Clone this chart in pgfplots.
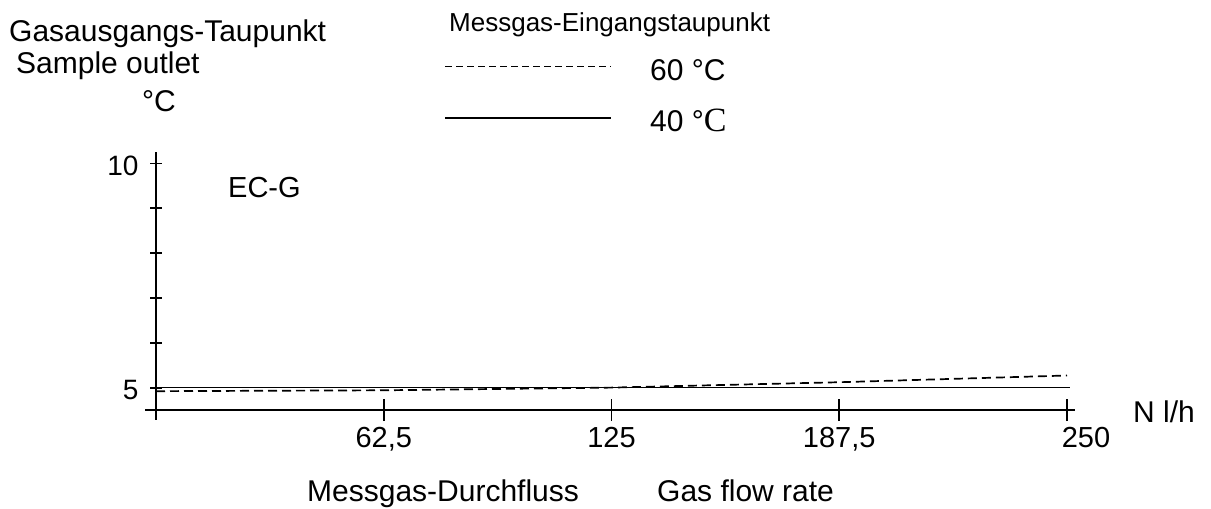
\documentclass[border=0pt]{standalone}
\usepackage{pgfplots}
\pgfplotsset{compat=1.18}
\usepackage{fontspec}
\setmainfont{Liberation Sans}
\newfontfamily\serifC{Liberation Serif}
\newcommand\fs[1]{\fontsize{#1pt}{#1pt}\selectfont}

\pgfplotstableread{
x y
0 5.0
250.8 5.0
}\solidforty
\pgfplotstableread{
x y
0 4.92
62.5 4.94
125 5.0
187.5 5.12
250 5.27
}\dashedsixty

\begin{document}
\begin{tikzpicture}
\useasboundingbox (0pt,0pt) rectangle (1211pt,-509pt);
% axis carrying the x ticks
\begin{axis}[
  at={(156pt,-410pt)}, anchor=south west,
  scale only axis, width=911pt, height=255.4pt,
  xmin=0, xmax=250, ymin=4.5, ymax=10.2,
  axis line style={draw=none},
  xtick={62.5,125,187.5,250},
  xticklabels={{62,5},125,{187,5},\hspace*{38pt}250},
  xtick pos=bottom, ytick=\empty,
  major tick length=22pt, tick align=center,
  tick style={line width=1.8pt, black},
  xticklabel style={font=\fs{29}, anchor=north, yshift=-3pt},
  /pgf/number format/assume math mode=true,
  clip=false,
]
\end{axis}
% axis carrying the y ticks and the data
\begin{axis}[
  at={(156pt,-410pt)}, anchor=south west,
  scale only axis, width=911pt, height=255.4pt,
  xmin=0, xmax=250, ymin=4.5, ymax=10.2,
  axis line style={draw=none},
  ytick={5,6,7,8,9,10},
  yticklabels={5,,,,,10},
  ytick pos=left, xtick=\empty,
  major tick length=12pt, tick align=center,
  tick style={line width=1.8pt, black},
  yticklabel style={font=\fs{28}, anchor=east, xshift=-8pt, yshift=-2pt},
  /pgf/number format/assume math mode=true,
  clip=false,
]
\draw[line width=1.8pt] (axis cs:-3,4.5) -- (axis cs:252.2,4.5);
\draw[line width=1.8pt] (axis cs:0,4.28) -- (axis cs:0,10.25);
\addplot[black, line width=1.7pt] table {\solidforty};
\addplot[black, line width=1.7pt, dash pattern=on 9pt off 5pt] table {\dashedsixty};
\end{axis}
% texts
\node[anchor=base west, inner sep=0pt, font=\fs{26}] at (449pt,-31pt) {Messgas-Eingangstaupunkt};
\draw[line width=1pt, dash pattern=on 7pt off 4pt] (445pt,-66pt) -- (611pt,-66pt);
\draw[line width=1.6pt] (445pt,-118pt) -- (611pt,-118pt);
\node[anchor=base west, inner sep=0pt, font=\fs{30}] at (650pt,-80pt) {60 °C};
\node[anchor=base west, inner sep=0pt, font=\fs{30}] at (650pt,-131pt) {40 °{\serifC\fs{34}C}};
\node[anchor=base west, inner sep=0pt, font=\fs{30}] at (9pt,-41pt) {Gasausgangs-Taupunkt};
\node[anchor=base west, inner sep=0pt, font=\fs{30}] at (16pt,-73pt) {Sample outlet};
\node[anchor=base west, inner sep=0pt, font=\fs{30}] at (142pt,-111pt) {°C};
\node[anchor=base west, inner sep=0pt, font=\fs{29}] at (228pt,-197pt) {EC-G};
\node[anchor=base west, inner sep=0pt, font=\fs{30}] at (1133pt,-422pt) {N l/h};
\node[anchor=base west, inner sep=0pt, font=\fs{30}] at (307pt,-501pt) {Messgas-Durchfluss};
\node[anchor=base west, inner sep=0pt, font=\fs{30}] at (657pt,-501pt) {Gas flow rate};
\end{tikzpicture}
\end{document}
